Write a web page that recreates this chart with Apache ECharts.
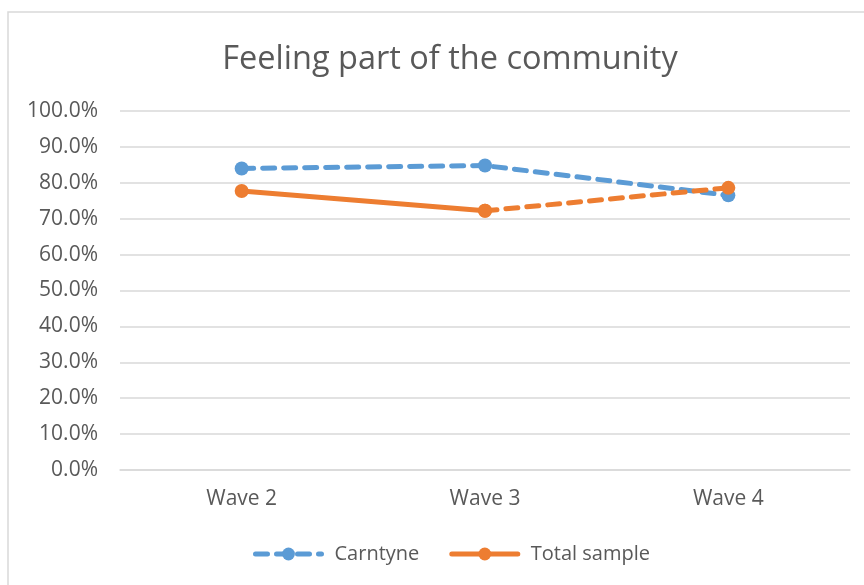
<!DOCTYPE html>
<html>
<head>
<meta charset="utf-8">
<script src="https://cdn.jsdelivr.net/npm/echarts@6/dist/echarts.min.js"></script>
<style>
  html, body { margin: 0; padding: 0; background: #fff; }
  #chart { width: 864px; height: 585px; }
</style>
</head>
<body>
<div id="chart"></div>
<script>
// data
var waves = ['Wave 2', 'Wave 3', 'Wave 4'];
var carntyne = [84.0, 84.8, 76.5];
var totalSample = [77.7, 72.2, 78.6];
var yTicks = [0, 10, 20, 30, 40, 50, 60, 70, 80, 90, 100];

var blue = '#5B9BD5';
var orange = '#ED7D31';
var grey = '#595959';
var font = '"Open Sans", sans-serif';

// total sample is solid from wave 2 to 3, dashed from 3 to 4
var totalSolid = totalSample.map(function (v, i) { return i <= 1 ? v : null; });
var totalDashed = totalSample.map(function (v, i) { return i >= 1 ? v : null; });

var myChart = echarts.init(document.getElementById('chart'));
var option = {
  backgroundColor: '#fff',
  animation: false,
  graphic: [{
    type: 'rect',
    shape: { x: 8, y: 12, width: 900, height: 620 },
    style: { fill: 'none', stroke: '#d9d9d9', lineWidth: 1.5 },
    silent: true
  }],
  title: {
    text: 'Feeling part of the community',
    left: 445,
    textAlign: 'center',
    top: 38,
    textStyle: { fontFamily: font, fontSize: 32.5, fontWeight: 'normal', color: grey }
  },
  legend: {
    bottom: 16,
    left: 248,
    itemWidth: 66,
    itemHeight: 16,
    itemGap: 30,
    data: [
      { name: 'Carntyne', lineStyle: { width: 5 } },
      { name: 'Total sample', lineStyle: { width: 5 } }
    ],
    textStyle: { fontFamily: font, fontSize: 20, color: grey, padding: [0, 0, 0, 8] }
  },
  grid: { left: 120, right: 14, top: 111, bottom: 115 },
  xAxis: {
    type: 'category',
    data: waves,
    boundaryGap: true,
    axisLine: { lineStyle: { color: '#d9d9d9', width: 1.5 } },
    axisTick: { show: false },
    axisLabel: { fontFamily: font, fontSize: 21, color: grey, margin: 19 }
  },
  yAxis: {
    type: 'value',
    min: yTicks[0],
    max: yTicks[yTicks.length - 1],
    interval: 10,
    axisLine: { show: false },
    axisTick: { show: false },
    splitLine: { lineStyle: { color: '#d9d9d9', width: 1.5 } },
    axisLabel: {
      fontFamily: font, fontSize: 21, color: grey, margin: 22,
      formatter: function (v) { return v.toFixed(1) + '%'; }
    }
  },
  series: [
    {
      name: 'Carntyne',
      type: 'line',
      data: carntyne,
      symbol: 'circle',
      symbolSize: 14,
      itemStyle: { color: blue },
      lineStyle: { color: blue, width: 5, type: [12, 9], cap: 'round' }
    },
    {
      name: 'Total sample',
      type: 'line',
      data: totalSolid,
      symbol: 'circle',
      symbolSize: 14,
      itemStyle: { color: orange },
      lineStyle: { color: orange, width: 5, cap: 'round' }
    },
    {
      name: 'Total sample',
      type: 'line',
      data: totalDashed,
      symbol: 'circle',
      symbolSize: 14,
      itemStyle: { color: orange },
      lineStyle: { color: orange, width: 5, type: [12, 9], cap: 'round' }
    }
  ]
};
option && myChart.setOption(option);
</script>
</body>
</html>
